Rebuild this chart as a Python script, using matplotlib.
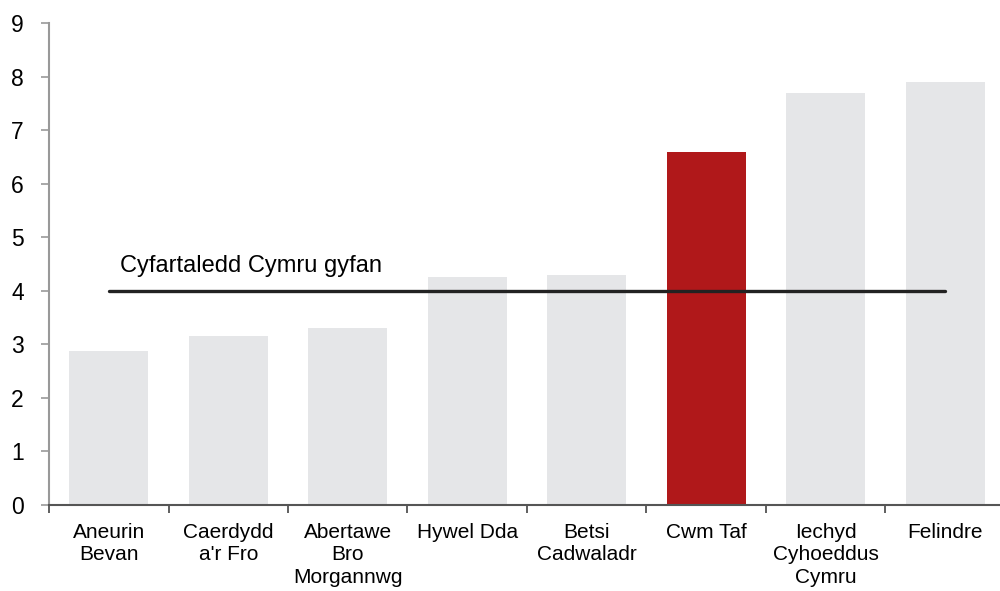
import numpy as np
import matplotlib.pyplot as plt

plt.rcParams['font.family'] = ['Liberation Sans', 'DejaVu Sans']

labels = ['Aneurin\nBevan', 'Caerdydd\na\'r Fro', 'Abertawe\nBro\nMorgannwg', 'Hywel Dda',
          'Betsi\nCadwaladr', 'Cwm Taf', 'Iechyd\nCyhoeddus\nCymru', 'Felindre']
values = [2.87, 3.15, 3.3, 4.25, 4.3, 6.6, 7.7, 7.9]
highlight = 'Cwm Taf'
avg_value = 4.0
avg_label = 'Cyfartaledd Cymru gyfan'

fig = plt.figure(figsize=(10, 5.91), dpi=100)
ax = fig.add_axes([0.049, 0.1455, 0.956, 0.8156])

x = np.arange(len(labels))
colors = ['#b0181a' if l == highlight else '#e5e6e8' for l in labels]
ax.bar(x, values, width=0.66, color=colors, zorder=1)

# average line from first to last bar centre
ax.plot([x[0], x[-1]], [avg_value, avg_value], color='#222222', lw=2.4,
        solid_capstyle='round', zorder=3)
ax.text(x[0] + 0.09, avg_value + 0.26, avg_label, fontsize=17, ha='left', va='bottom')

ax.set_xlim(-0.5, len(labels) - 0.5)
ax.set_ylim(0, 9)
ax.set_yticks(range(0, 10))

ax.set_xticks(x)
ax.set_xticklabels(labels, fontsize=15, linespacing=1.22)
ax.tick_params(axis='x', which='major', length=0, pad=13)
ax.set_xticks(np.arange(-0.5, len(labels), 1.0), minor=True)
ax.tick_params(axis='x', which='minor', length=6, width=1.2, color='#444444', direction='out')
ax.tick_params(axis='y', labelsize=16.5, length=6, width=1.2, color='#999999', pad=12)

for s in ['top', 'right']:
    ax.spines[s].set_visible(False)
ax.spines['left'].set_color('#999999')
ax.spines['left'].set_linewidth(1.5)
ax.spines['bottom'].set_color('#555555')
ax.spines['bottom'].set_linewidth(1.5)

fig.savefig('out.png', dpi=100)
